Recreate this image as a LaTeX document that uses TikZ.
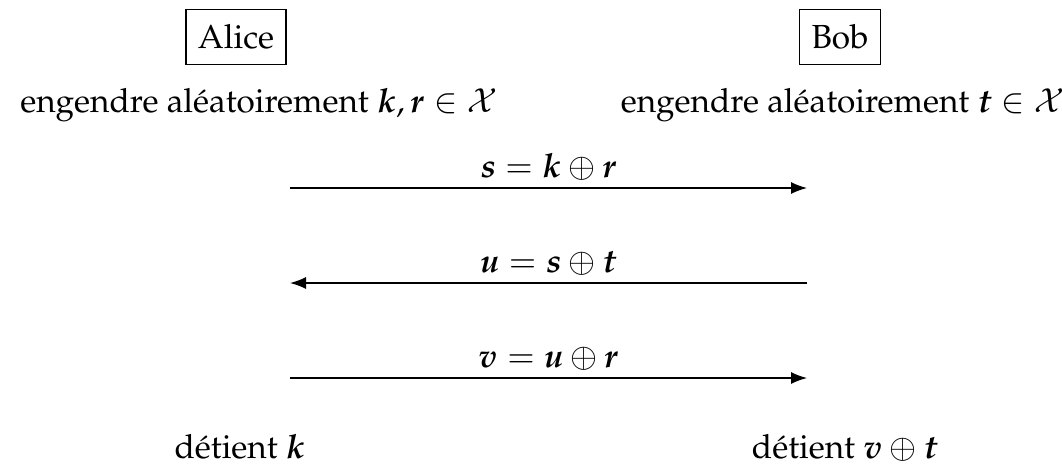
\documentclass[tikz,border=0pt]{standalone}
\usepackage[T1]{fontenc}
\usepackage{mathpazo}
\usepackage{amsmath,amssymb,bm}
\usepackage{tikz}
\usetikzlibrary{arrows.meta,positioning}
\newcommand{\vb}[1]{\bm{#1}}

\begin{document}
\begin{tikzpicture}[x=0.3pt,y=-0.3pt,>=Latex,
  party/.style={draw,thin,inner xsep=3.6pt,inner ysep=4.6pt},
  msg/.style={->,thin}]
\useasboundingbox (0,0) rectangle (1062,468);
% participants
\node[party] (alice) at (236,37) {Alice};
\node[party] (bob) at (840,37) {Bob};
\node[anchor=base] (genA) at (259,112) {engendre aléatoirement $\vb{k},\vb{r}\in\mathcal{X}$};
\node[anchor=base] (genB) at (843,112) {engendre aléatoirement $\vb{t}\in\mathcal{X}$};
% messages
\coordinate (a1) at (290,188); \coordinate (b1) at (807,188);
\coordinate (a2) at (290,283); \coordinate (b2) at (807,283);
\coordinate (a3) at (290,378); \coordinate (b3) at (807,378);
\draw[msg] (a1) -- node[above,inner sep=2pt] (m1) {$\vb{s}=\vb{k}\oplus\vb{r}$} (b1);
\draw[msg] (b2) -- node[above,inner sep=2pt] (m2) {$\vb{u}=\vb{s}\oplus\vb{t}$} (a2);
\draw[msg] (a3) -- node[above,inner sep=2pt] (m3) {$\vb{v}=\vb{u}\oplus\vb{r}$} (b3);
% results
\node[anchor=base] (resA) at (240,458) {détient $\vb{k}$};
\node[anchor=base] (resB) at (845,458) {détient $\vb{v}\oplus\vb{t}$};
\end{tikzpicture}
\end{document}
